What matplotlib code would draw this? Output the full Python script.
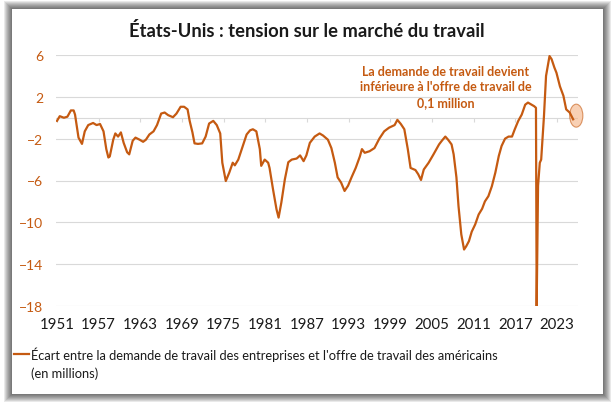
import numpy as np
import matplotlib.pyplot as plt
from matplotlib.patches import Rectangle, Ellipse
from matplotlib.lines import Line2D

plt.rcParams['font.family'] = ['Lato', 'DejaVu Sans']

# Values (millions), decimal years
years = [1951.0, 1951.4, 1952.0, 1952.5, 1953.0, 1953.4, 1953.6, 1954.1, 1954.6, 1955.0,
         1955.5, 1956.2, 1956.7, 1957.2, 1957.7, 1958.1, 1958.4, 1958.6, 1959.1, 1959.4,
         1959.8, 1960.2, 1960.6, 1961.1, 1961.4, 1961.9, 1962.3, 1962.9, 1963.4, 1963.8,
         1964.3, 1964.9, 1965.4, 1966.0, 1966.5, 1967.0, 1967.7, 1968.2, 1968.8, 1969.3,
         1969.8, 1970.1, 1970.5, 1970.8, 1971.3, 1971.9, 1972.4, 1972.9, 1973.5, 1974.0,
         1974.5, 1974.8, 1975.3, 1975.8, 1976.3, 1976.6, 1977.1, 1977.7, 1978.3, 1978.8,
         1979.2, 1979.7, 1980.2, 1980.4, 1980.9, 1981.4, 1981.6, 1982.1, 1982.6, 1982.9,
         1983.3, 1983.8, 1984.3, 1984.8, 1985.5, 1986.0, 1986.5, 1986.9, 1987.4, 1988.1,
         1988.8, 1989.3, 1990.0, 1990.5, 1991.0, 1991.4, 1991.9, 1992.4, 1992.9, 1993.4,
         1994.0, 1994.6, 1994.9, 1995.3, 1996.0, 1996.7, 1997.4, 1998.1, 1998.8, 1999.6,
         2000.0, 2000.5, 2001.0, 2001.5, 2001.9, 2002.6, 2003.0, 2003.4, 2003.8, 2004.5,
         2005.2, 2006.0, 2006.4, 2006.9, 2007.3, 2007.8, 2008.1, 2008.5, 2008.8, 2009.2,
         2009.6, 2009.9, 2010.3, 2010.7, 2011.2, 2011.7, 2012.2, 2012.6, 2013.1, 2013.6,
         2014.1, 2014.6, 2015.0, 2015.5, 2016.0, 2016.5, 2016.9, 2017.4, 2017.9, 2018.4,
         2018.8, 2019.3, 2019.7, 2019.95, 2020.05, 2020.25, 2020.5, 2020.7, 2021.1, 2021.4,
         2021.9, 2022.2, 2022.6, 2022.9, 2023.4, 2023.9, 2024.3, 2024.8, 2025.3]
gap = [-0.3, 0.15, 0.0, 0.1, 0.7, 0.7, 0.3, -1.9, -2.5, -1.3,
       -0.7, -0.5, -0.7, -0.6, -1.3, -3.0, -3.8, -3.7, -2.1, -1.5,
       -1.8, -1.4, -2.4, -3.3, -3.5, -2.2, -1.9, -2.1, -2.3, -2.1,
       -1.6, -1.3, -0.7, 0.4, 0.5, 0.25, 0.05, 0.4, 1.05, 1.05,
       0.8, -0.3, -1.4, -2.45, -2.5, -2.45, -1.8, -0.55, -0.3, -0.7,
       -1.5, -4.3, -6.05, -5.25, -4.3, -4.55, -4.0, -2.8, -1.6, -1.2,
       -1.1, -1.3, -3.0, -4.6, -4.0, -4.3, -4.8, -6.85, -8.75, -9.55,
       -8.1, -5.9, -4.25, -4.0, -3.9, -3.6, -4.15, -3.6, -2.4, -1.8,
       -1.5, -1.7, -2.1, -2.9, -4.3, -5.7, -6.2, -7.0, -6.5, -5.7,
       -4.8, -3.7, -3.0, -3.35, -3.2, -2.9, -2.0, -1.3, -0.95, -0.7,
       -0.2, -0.6, -1.1, -3.0, -4.8, -5.0, -5.4, -5.95, -4.95, -4.3,
       -3.5, -2.55, -2.2, -1.8, -2.1, -2.55, -3.5, -5.7, -8.45, -11.15,
       -12.6, -12.3, -11.8, -10.9, -10.2, -9.25, -8.7, -8.0, -7.5, -6.55,
       -5.25, -3.65, -2.7, -2.0, -1.8, -1.8, -1.1, -0.3, 0.3, 1.25,
       1.45, 1.25, 1.1, 0.95, -18.0, -6.5, -4.3, -4.0, 0.15, 4.0,
       5.9, 5.6, 4.8, 4.3, 3.0, 2.1, 0.8, 0.5, -0.15]

xticks = [1951, 1957, 1963, 1969, 1975, 1981, 1987, 1993, 1999, 2005, 2011, 2017, 2023]
yticks = [-18, -14, -10, -6, -2, 2, 6]

title = "États-Unis : tension sur le marché du travail"
label = ("Écart entre la demande de travail des entreprises et l'offre de travail des américains\n"
         "(en millions)")
note = "La demande de travail devient\ninférieure à l'offre de travail de\n0,1 million"

orange = '#C55A11'
grid = '#D9D9D9'

W, H = 613, 406
fig = plt.figure(figsize=(W / 100, H / 100), dpi=100)
fig.patch.set_facecolor('white')

def px(x, y):
    return x / W, 1 - y / H

# soft shadow + white card
cx0, cy0, cx1, cy1 = 12, 10, 603, 395
for k in range(8, 0, -1):
    x0, y0 = px(cx0 - k, cy1 + k)
    fig.add_artist(Rectangle((x0, y0), (cx1 - cx0 + 2 * k) / W, (cy1 - cy0 + 2 * k) / H,
                             transform=fig.transFigure, facecolor='black', alpha=0.085,
                             edgecolor='none', zorder=0))
x0, y0 = px(cx0, cy1)
fig.add_artist(Rectangle((x0, y0), (cx1 - cx0) / W, (cy1 - cy0) / H,
                         transform=fig.transFigure, facecolor='white', edgecolor='none',
                         zorder=0.5))

ax = fig.add_axes([56 / W, 1 - 307 / H, (578 - 56) / W, (307 - 56) / H])
ax.set_facecolor('none')
ax.set_zorder(2)

ax.plot(years, gap, color=orange, lw=1.6, solid_joinstyle='round', zorder=3)

ax.set_xlim(1950.86, 2026.0)
ax.set_ylim(-18, 6)
ax.set_yticks(yticks)
ax.set_xticks(xticks)
ax.set_xticklabels([str(t) for t in xticks])
ax.grid(axis='y', color=grid, lw=0.8)
ax.set_axisbelow(True)
for s in ax.spines.values():
    s.set_visible(False)
ax.tick_params(axis='y', length=0, pad=9, labelsize=10, labelcolor=orange)
ax.tick_params(axis='x', length=0, pad=8, labelsize=10.8, labelcolor='#1a1a1a')

# horizontal axis line at zero with tick marks
ax.axhline(0, color=grid, lw=0.8, zorder=1)
ax.vlines(xticks, -0.45, 0, color=grid, lw=0.8, zorder=1)

# highlight of the last point (semi-transparent, below the line)
ax.add_patch(Ellipse((years[-1] + 0.45, gap[-1] + 0.35), 1.9, 2.2, facecolor='#F4B183',
                     edgecolor=orange, lw=0.8, alpha=0.6, zorder=2.5, clip_on=False))
ax.text(2007.0, 3.0, note, ha='center', va='center', color=orange, fontsize=9,
        fontweight='bold', linespacing=1.35, zorder=5)

fig.text(307 / W, 1 - 31 / H, title, ha='center', va='center', fontsize=13.2,
         fontweight='bold', color='#1a1a1a')

# legend
lx0, ly = px(14, 355)
lx1, _ = px(29, 355)
fig.add_artist(Line2D([lx0, lx1], [ly, ly], color=orange, lw=1.6, transform=fig.transFigure))
fig.text(31 / W, 1 - 347.5 / H, label, ha='left', va='top', fontsize=9.3, color='#1a1a1a',
         linespacing=1.5)

fig.savefig('out.png', dpi=100)
